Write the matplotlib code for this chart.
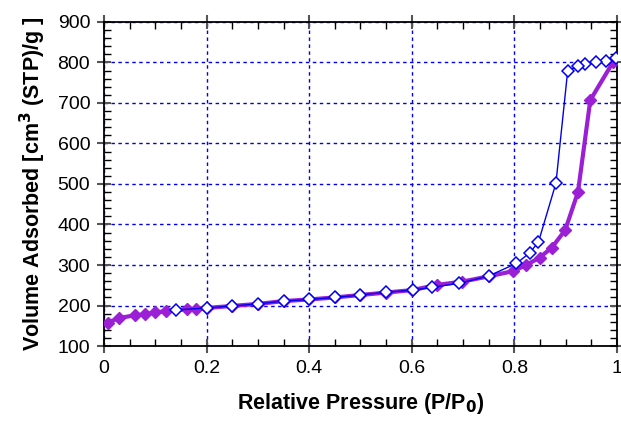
import matplotlib
matplotlib.use("Agg")
import matplotlib.pyplot as plt
from matplotlib.ticker import MultipleLocator

plt.rcParams['font.family'] = ['Liberation Sans', 'DejaVu Sans']

# adsorption branch (filled purple diamonds)
ads_p = [0.007, 0.029, 0.06, 0.079, 0.10, 0.12, 0.161, 0.18, 0.20, 0.25, 0.30,
         0.35, 0.40, 0.45, 0.50, 0.55, 0.60, 0.65, 0.698, 0.75, 0.798, 0.823,
         0.849, 0.873, 0.899, 0.924, 0.948, 0.993]
ads_v = [158, 169, 176, 178, 183, 186, 191, 192, 194, 199, 204,
         211, 215, 220, 226, 232, 238, 251, 259, 272, 285, 300,
         318, 343, 386, 480, 707, 802]

# desorption branch (open blue diamonds)
des_p = [0.999, 0.979, 0.96, 0.937, 0.925, 0.904, 0.881, 0.847, 0.83, 0.804,
         0.75, 0.693, 0.64, 0.603, 0.55, 0.50, 0.45, 0.40, 0.35, 0.30, 0.25,
         0.20, 0.14]
des_v = [810, 804, 800, 796, 791, 780, 502, 357, 330, 304,
         273, 255, 245, 238, 233, 226, 220, 215, 211, 204, 199,
         194, 189]

purple = '#9b1fd4'
blue = '#0000ee'

fig = plt.figure(figsize=(6.21, 4.21), dpi=100)
ax = fig.add_axes([0.1675, 0.178, 0.826, 0.770])

ax.plot(ads_p, ads_v, '-', color=purple, lw=3, marker='D', ms=6.5,
        mfc=purple, mec=purple, zorder=3)
ax.plot(des_p, des_v, '-', color=blue, lw=1, marker='D', ms=6.5,
        mfc='white', mec=blue, mew=1.1, zorder=4)

ax.set_xlim(0, 1)
ax.set_ylim(100, 900)
ax.xaxis.set_major_locator(MultipleLocator(0.2))
ax.xaxis.set_minor_locator(MultipleLocator(0.05))
ax.yaxis.set_major_locator(MultipleLocator(100))
ax.yaxis.set_minor_locator(MultipleLocator(20))
ax.set_xticks([0, 0.2, 0.4, 0.6, 0.8, 1.0])
ax.set_xticklabels(['0', '0.2', '0.4', '0.6', '0.8', '1'])

ax.tick_params(which='major', direction='inout', length=10, width=1.5,
               color='#555555', top=True, right=True, labelsize=14, pad=5)
ax.tick_params(which='minor', direction='in', length=5, width=1,
               top=True, right=True)

ax.grid(True, which='major', color=blue, linestyle=(0, (2.5, 2.5)), lw=1)
for s in ax.spines.values():
    s.set_linewidth(1.3)

ax.set_xlabel(r'Relative Pressure (P/P$_\mathbf{0}$)', fontsize=15.5,
              fontweight='bold', labelpad=10)
ax.set_ylabel(r'Volume Adsorbed [cm$^\mathbf{3}$ (STP)/g ]', fontsize=15.5,
              fontweight='bold', labelpad=7)

fig.savefig('out.png', dpi=100)
